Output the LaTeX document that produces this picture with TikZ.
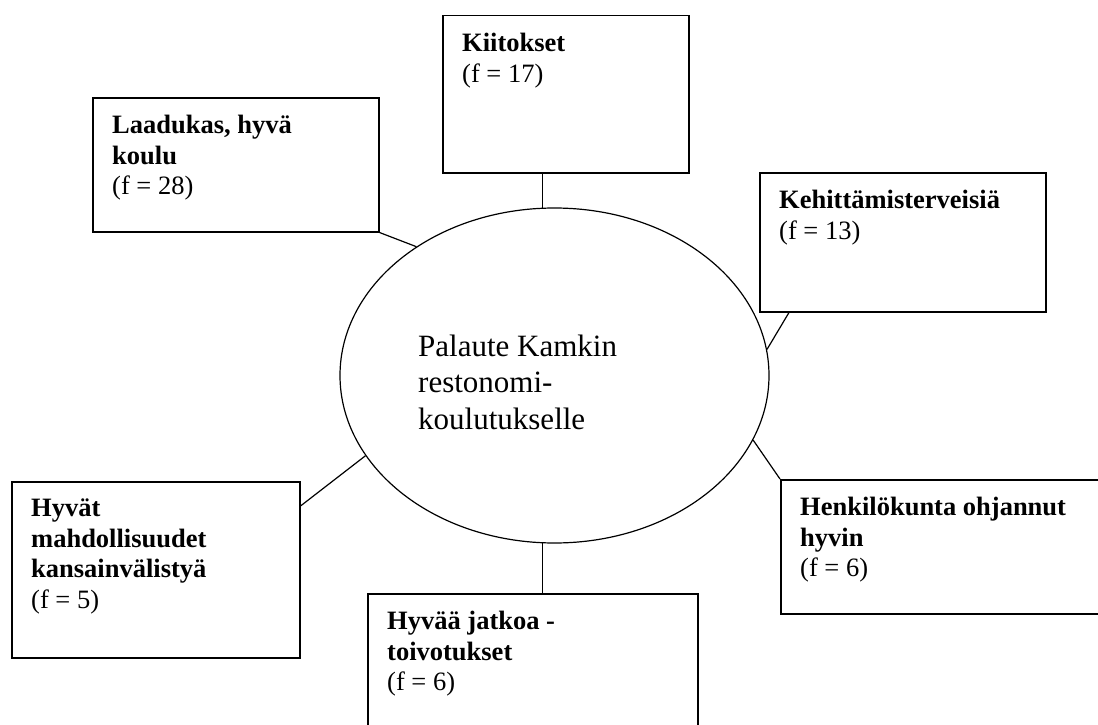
\documentclass[tikz,border=0pt]{standalone}
\usepackage{fontspec}
\setmainfont{Liberation Serif}
\usetikzlibrary{positioning, shapes.geometric}

\begin{document}
\begin{tikzpicture}[x=1pt, y=-1pt,
	laatikko/.style={draw, line width=1.5pt, rectangle, anchor=north west, inner sep=0pt},
	teksti/.style={align=left, inner sep=0pt, font=\fontsize{26.5}{30.5}\selectfont},
	viiva/.style={line width=1.2pt}]
	\useasboundingbox (0,0) rectangle (1098,725);
	% keskus
	\node[draw, ellipse, line width=1.2pt, minimum width=429pt, minimum height=335pt, inner sep=0pt] (palaute) at (554.5,375.5) {};
	\node[align=left, inner sep=0pt, anchor=north west, font=\fontsize{31}{36.7}\selectfont] (palautetxt) at (418,334.5) {Palaute Kamkin\\restonomi-\\koulutukselle};
	% laatikot
	\node[laatikko, minimum width=246pt, minimum height=157pt] (kiitokset) at (442,15) {};
	\node[laatikko, minimum width=286pt, minimum height=134pt] (laadukas) at (92,97) {};
	\node[laatikko, minimum width=286pt, minimum height=139pt] (kehittamis) at (759,172) {};
	\node[laatikko, minimum width=330pt, minimum height=134pt] (henkilokunta) at (780,479) {};
	\node[laatikko, minimum width=288pt, minimum height=176pt] (hyvat) at (11,481) {};
	\node[laatikko, minimum width=330pt, minimum height=150pt] (jatkoa) at (367,593) {};
	\node[teksti, below right=18pt and 20pt of kiitokset.north west] (kiitoksettxt) {\textbf{Kiitokset}\\(f = 17)};
	\node[teksti, below right=18pt and 20pt of laadukas.north west] (laadukastxt) {\textbf{Laadukas, hyvä}\\\textbf{koulu}\\(f = 28)};
	\node[teksti, below right=18pt and 20pt of kehittamis.north west] (kehittamistxt) {\textbf{Kehittämisterveisiä}\\(f = 13)};
	\node[teksti, below right=18pt and 20pt of henkilokunta.north west] (henkilokuntatxt) {\textbf{Henkilökunta ohjannut}\\\textbf{hyvin}\\(f = 6)};
	\node[teksti, below right=18pt and 20pt of hyvat.north west] (hyvattxt) {\textbf{Hyvät}\\\textbf{mahdollisuudet}\\\textbf{kansainvälistyä}\\(f = 5)};
	\node[teksti, below right=18pt and 20pt of jatkoa.north west] (jatkoatxt) {\textbf{Hyvää jatkoa -}\\\textbf{toivotukset}\\(f = 6)};
	% viivat
	\draw[viiva] (palaute.94) -- (palaute.94 |- kiitokset.south);
	\draw[viiva] (laadukas.south east) -- (palaute.137);
	\draw[viiva] ([xshift=30pt]kehittamis.south west) -- (palaute.7);
	\draw[viiva] (palaute.342) -- (henkilokunta.north west);
	\draw[viiva] ([yshift=-25pt]hyvat.north east) -- (palaute.203);
	\draw[viiva] (palaute.266) -- (palaute.266 |- jatkoa.north);
\end{tikzpicture}
\end{document}
